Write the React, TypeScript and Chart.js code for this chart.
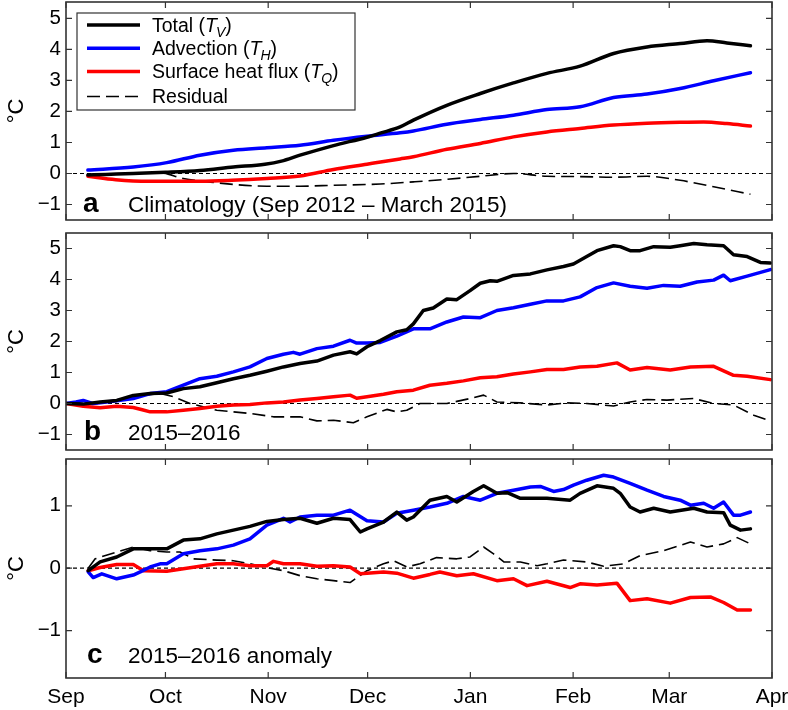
import React, { useEffect, useRef } from 'react';
import { Chart, registerables } from 'chart.js';

Chart.register(...registerables);

const FONT = '"Liberation Sans", Arial, Helvetica, sans-serif';

// x axis: days since 1 September (Apr 1 = day 213)
const monthDays = [0, 30, 61, 91, 122, 153, 182, 213];
const monthLabels = ['Sep', 'Oct', 'Nov', 'Dec', 'Jan', 'Feb', 'Mar', 'Apr'];
const yTicksAB = [-1, 0, 1, 2, 3, 4, 5];
const yTicksC = [-1, 0, 1];

type Pt = [number, number];

// ---------- panel a: climatology ----------
const aTotal: Pt[] = [[6.6, -0.05], [12, -0.03], [20.3, 0], [30, 0.04], [40.4, 0.1], [50.5, 0.21], [60, 0.3], [65, 0.4], [70.6, 0.59], [80.7, 0.9], [90.8, 1.17], [94.8, 1.3], [100.8, 1.5], [104.8, 1.72], [114.9, 2.2], [125, 2.58], [135, 2.92], [145.1, 3.23], [155.1, 3.46], [165.2, 3.87], [175.3, 4.08], [185.3, 4.19], [193.4, 4.28], [199.4, 4.21], [206.5, 4.12]];
const aAdvection: Pt[] = [[6.6, 0.11], [20.3, 0.21], [30.4, 0.35], [40.4, 0.59], [50.5, 0.75], [60.6, 0.83], [70.6, 0.91], [80.7, 1.07], [90.8, 1.2], [100.8, 1.31], [104.8, 1.37], [114.9, 1.59], [125, 1.74], [135, 1.88], [145.1, 2.06], [155.1, 2.15], [165.2, 2.45], [175.3, 2.56], [185.3, 2.74], [195.4, 2.99], [206.5, 3.25]];
const aSurface: Pt[] = [[6.6, -0.09], [15, -0.2], [25, -0.25], [40.4, -0.25], [50, -0.22], [60.6, -0.16], [70.6, -0.08], [80.7, 0.13], [90.8, 0.3], [100.8, 0.47], [104.8, 0.54], [114.9, 0.78], [125, 0.97], [135, 1.18], [145.1, 1.34], [155.1, 1.45], [165.2, 1.56], [175.3, 1.62], [185.3, 1.65], [192.4, 1.66], [199.4, 1.61], [206.5, 1.53]];
const aResidual: Pt[] = [[6.6, -0.05], [20.3, 0], [28.4, 0.02], [35.4, -0.16], [45.5, -0.3], [60.6, -0.41], [70.6, -0.41], [80.7, -0.38], [94.8, -0.34], [104.8, -0.27], [114.9, -0.19], [125, -0.09], [135, 0], [145.1, -0.09], [155.1, -0.1], [165.2, -0.12], [175.3, -0.09], [185.3, -0.22], [195.4, -0.43], [206.5, -0.67]];

// ---------- panel b: 2015-2016 ----------
const bTotal: Pt[] = [[0, 0], [5.2, -0.02], [10.3, 0.05], [15.3, 0.1], [20.3, 0.26], [25.4, 0.32], [30.4, 0.34], [35.4, 0.48], [40.4, 0.54], [45.5, 0.67], [50.5, 0.8], [55.5, 0.91], [60.6, 1.04], [65.6, 1.18], [70.6, 1.29], [75.7, 1.37], [80.7, 1.56], [85.7, 1.67], [87.7, 1.6], [90.8, 1.83], [94.8, 2.03], [99.8, 2.31], [102.8, 2.38], [104.8, 2.57], [107.8, 3.0], [110.8, 3.08], [114.9, 3.37], [117.9, 3.35], [121.9, 3.64], [125, 3.88], [128, 3.96], [130, 3.94], [135, 4.13], [140.1, 4.18], [145.1, 4.31], [150.1, 4.42], [153.1, 4.5], [157.1, 4.74], [160.2, 4.93], [165.2, 5.09], [167.2, 5.06], [170.2, 4.93], [173.2, 4.93], [177.3, 5.06], [182.3, 5.04], [185.3, 5.09], [189.4, 5.16], [193.4, 5.12], [198.4, 5.09], [201.4, 4.8], [205.5, 4.74], [209.5, 4.55], [212.5, 4.53]];
const bAdvection: Pt[] = [[0, 0], [3, 0.05], [5.2, 0.1], [8, 0], [10.3, 0.02], [15.3, 0.09], [20.3, 0.16], [25.4, 0.32], [30.4, 0.38], [35.4, 0.59], [40.4, 0.8], [45.5, 0.88], [50.5, 1.02], [55.5, 1.18], [60.6, 1.45], [65.6, 1.59], [68.6, 1.65], [70.6, 1.59], [75.7, 1.77], [80.7, 1.85], [85.7, 2.04], [87.7, 1.95], [90.8, 1.95], [94.8, 1.97], [99.8, 2.17], [104.8, 2.41], [109.8, 2.41], [114.9, 2.63], [119.9, 2.79], [125, 2.77], [130, 3.0], [135, 3.09], [140.1, 3.2], [145.1, 3.31], [150.1, 3.31], [155.1, 3.44], [160.2, 3.74], [165.2, 3.89], [170.2, 3.78], [175.3, 3.72], [180.3, 3.81], [185.3, 3.78], [190.4, 3.92], [195.4, 3.98], [198.4, 4.14], [200.4, 3.96], [205.5, 4.11], [212.5, 4.32]];
const bSurface: Pt[] = [[0, 0], [5.2, -0.09], [10.3, -0.14], [15.3, -0.09], [20.3, -0.13], [23, -0.2], [25.4, -0.27], [30.4, -0.27], [35.4, -0.22], [40.4, -0.16], [45.5, -0.09], [50.5, -0.05], [55.5, -0.03], [60.6, 0.02], [65.6, 0.05], [70.6, 0.11], [75.7, 0.16], [80.7, 0.22], [85.7, 0.27], [87.7, 0.17], [90.8, 0.22], [95.8, 0.3], [99.8, 0.38], [104.8, 0.43], [109.8, 0.59], [114.9, 0.65], [119.9, 0.73], [125, 0.83], [130, 0.86], [135, 0.95], [140.1, 1.02], [145.1, 1.1], [150.1, 1.1], [155.1, 1.18], [160.2, 1.2], [166.2, 1.31], [170.2, 1.08], [175.3, 1.16], [182.3, 1.08], [188.4, 1.18], [195.4, 1.2], [201.4, 0.91], [205.5, 0.88], [212.5, 0.77]];
const bResidual: Pt[] = [[0, 0], [10.3, 0], [20.3, 0.22], [28.4, 0.32], [32.4, 0.22], [37.4, 0], [45.5, -0.22], [55.5, -0.32], [62.6, -0.43], [70.6, -0.43], [75.7, -0.56], [80.7, -0.54], [86.7, -0.62], [90.8, -0.43], [96.8, -0.19], [99.8, -0.27], [102.8, -0.22], [106.8, 0], [114.9, 0], [121.9, 0.16], [126, 0.27], [130, 0.05], [137.1, 0.02], [145.1, -0.05], [151.1, 0.02], [157.1, 0], [165.2, -0.08], [170.2, 0.05], [175.3, 0.13], [181.3, 0.11], [189.4, 0.16], [195.4, 0], [201.4, -0.05], [207.5, -0.38], [212.5, -0.56]];

// ---------- panel c: 2015-2016 anomaly ----------
const cTotal: Pt[] = [[6.7, -0.04], [10.3, 0.1], [15.3, 0.18], [20.3, 0.31], [25.4, 0.31], [30.4, 0.31], [35.4, 0.45], [40.4, 0.47], [45.5, 0.55], [50.5, 0.61], [55.5, 0.67], [60.6, 0.75], [65.6, 0.78], [70.6, 0.8], [75.7, 0.72], [80.7, 0.8], [85.7, 0.78], [88.8, 0.58], [90.8, 0.63], [95.8, 0.74], [99.8, 0.9], [102.8, 0.77], [104.8, 0.82], [109.8, 1.09], [114.9, 1.15], [117.9, 1.06], [122.9, 1.23], [126, 1.32], [130, 1.2], [133.1, 1.21], [137.1, 1.12], [145.1, 1.12], [152.1, 1.09], [155.1, 1.2], [160.2, 1.32], [165.2, 1.28], [167.2, 1.2], [170.2, 0.98], [173.2, 0.9], [177.3, 0.96], [182.3, 0.9], [189.4, 0.96], [193.4, 0.9], [198.4, 0.89], [200.4, 0.69], [203.5, 0.61], [206.5, 0.63]];
const cAdvection: Pt[] = [[6.7, -0.06], [8.2, -0.15], [10.8, -0.09], [15.3, -0.17], [20.3, -0.11], [22.4, -0.06], [25.4, 0.02], [28.4, 0.07], [30.4, 0.07], [35.4, 0.23], [40.4, 0.28], [45.5, 0.31], [50.5, 0.37], [55.5, 0.47], [60.6, 0.69], [65.6, 0.8], [67.6, 0.74], [70.6, 0.82], [75.7, 0.85], [80.7, 0.85], [85.7, 0.93], [90.8, 0.76], [95.8, 0.74], [99.8, 0.88], [104.8, 0.93], [109.8, 0.98], [114.9, 1.04], [119.9, 1.15], [125, 1.09], [130, 1.2], [135, 1.25], [140.1, 1.3], [143.1, 1.31], [147.1, 1.23], [150.1, 1.26], [153.1, 1.33], [157.1, 1.41], [162.2, 1.49], [165.2, 1.46], [170.2, 1.36], [175.3, 1.25], [180.3, 1.15], [185.3, 1.09], [188.4, 1.01], [192.4, 1.04], [195.4, 0.96], [198.4, 1.06], [201.4, 0.85], [203.5, 0.85], [206.5, 0.9]];
const cSurface: Pt[] = [[6.7, -0.04], [10.3, 0.01], [15.3, 0.06], [20.3, 0.06], [23.4, -0.04], [30.4, -0.05], [35.4, -0.01], [40.4, 0.03], [45.5, 0.07], [50.5, 0.07], [55.5, 0.04], [60.6, 0.04], [62.6, 0.11], [65.6, 0.07], [70.6, 0.07], [75.7, 0.03], [80.7, 0.04], [85.7, 0.02], [88.8, -0.09], [95.8, -0.06], [99.8, -0.08], [104.8, -0.16], [109.8, -0.1], [112.8, -0.06], [117.9, -0.12], [122.9, -0.09], [130, -0.2], [135, -0.17], [139.1, -0.28], [145.1, -0.21], [152.1, -0.31], [155.1, -0.25], [160.2, -0.27], [166.2, -0.24], [170.2, -0.52], [175.3, -0.49], [182.3, -0.56], [188.4, -0.47], [194.4, -0.46], [198.4, -0.55], [202.5, -0.67], [206.5, -0.67]];
const cResidual: Pt[] = [[6.7, 0], [8.8, 0.15], [15.3, 0.26], [20.3, 0.34], [25.4, 0.28], [30.4, 0.26], [34.4, 0.26], [38.5, 0.15], [45.5, 0.13], [50.5, 0.12], [55.5, 0.07], [60.6, 0.01], [65.6, -0.04], [70.6, -0.12], [75.7, -0.17], [80.7, -0.2], [85.7, -0.23], [90.8, -0.04], [95.8, 0.07], [98.8, 0.12], [102.8, 0.02], [106.8, 0.07], [111.8, 0.17], [117.9, 0.15], [121.9, 0.18], [126, 0.34], [129, 0.23], [132.1, 0.1], [137.1, 0.1], [142.1, 0.04], [145.1, 0.07], [150.1, 0.13], [157.1, 0.1], [162.2, 0.03], [168.2, 0.07], [173.2, 0.2], [180.3, 0.28], [188.4, 0.42], [193.4, 0.34], [198.4, 0.39], [202.5, 0.49], [206.5, 0.39]];

const seriesNames = ['Total (T_V)', 'Advection (T_H)', 'Surface heat flux (T_Q)', 'Residual'];
const seriesColors = ['#000000', '#0000ff', '#ff0000', '#000000'];

type Panel = {
  top: number;
  bottom: number;
  min: number;
  max: number;
  yTicks: number[];
  showX: boolean;
  letter: string;
  caption: string;
  letterX: number;
  baseline: number;
  legend: boolean;
  smooth: boolean;
  series: Pt[][];
};

const W = 788;
const H = 710;

const panels: Panel[] = [
  { top: 2, bottom: 220, min: -1.5, max: 5.53, yTicks: yTicksAB, showX: false, letter: 'a', caption: 'Climatology (Sep 2012 \u2013 March 2015)', letterX: 83, baseline: 211.5, legend: true, smooth: true, series: [aTotal, aAdvection, aSurface, aResidual] },
  { top: 233, bottom: 450, min: -1.5, max: 5.5, yTicks: yTicksAB, showX: false, letter: 'b', caption: '2015\u20132016', letterX: 84, baseline: 440, legend: false, smooth: false, series: [bTotal, bAdvection, bSurface, bResidual] },
  { top: 459, bottom: 678, min: -1.76, max: 1.75, yTicks: yTicksC, showX: true, letter: 'c', caption: '2015\u20132016 anomaly', letterX: 87, baseline: 663, legend: false, smooth: false, series: [cTotal, cAdvection, cSurface, cResidual] },
];

const legendRows: { parts: { t: string; style: 'n' | 'i' | 's' }[] }[] = [
  { parts: [{ t: 'Total (', style: 'n' }, { t: 'T', style: 'i' }, { t: 'V', style: 's' }, { t: ')', style: 'n' }] },
  { parts: [{ t: 'Advection (', style: 'n' }, { t: 'T', style: 'i' }, { t: 'H', style: 's' }, { t: ')', style: 'n' }] },
  { parts: [{ t: 'Surface heat flux (', style: 'n' }, { t: 'T', style: 'i' }, { t: 'Q', style: 's' }, { t: ')', style: 'n' }] },
  { parts: [{ t: 'Residual', style: 'n' }] },
];

function drawLegend(ctx: CanvasRenderingContext2D) {
  const bx = 77, by = 13, bw = 278, bh = 97;
  ctx.save();
  ctx.fillStyle = '#ffffff';
  ctx.fillRect(bx, by, bw, bh);
  ctx.strokeStyle = '#333333';
  ctx.lineWidth = 1.2;
  ctx.strokeRect(bx, by, bw, bh);
  const rows = [25, 48.3, 71.5, 96.5];
  rows.forEach((ry, i) => {
    ctx.save();
    ctx.strokeStyle = seriesColors[i];
    ctx.lineWidth = i === 3 ? 1.6 : 3.5;
    ctx.setLineDash(i === 3 ? [13, 6] : []);
    ctx.beginPath();
    ctx.moveTo(87, ry);
    ctx.lineTo(140, ry);
    ctx.stroke();
    ctx.restore();
    let x = 152;
    const base = ry + 6.5;
    ctx.fillStyle = '#000';
    ctx.textBaseline = 'alphabetic';
    ctx.textAlign = 'left';
    legendRows[i].parts.forEach((p) => {
      if (p.style === 'n') {
        ctx.font = `19.5px ${FONT}`;
        ctx.fillText(p.t, x, base);
      } else if (p.style === 'i') {
        ctx.font = `italic 19.5px ${FONT}`;
        ctx.fillText(p.t, x, base);
      } else {
        ctx.font = `italic 14px ${FONT}`;
        x -= 1;
        ctx.fillText(p.t, x, base + 5);
      }
      x += ctx.measureText(p.t).width;
    });
  });
  ctx.restore();
}

function makePlugin(p: Panel) {
  return {
    id: 'panelDeco',
    beforeDatasetsDraw(chart: any) {
      const { ctx, chartArea: ca, scales } = chart;
      const y0 = scales.y.getPixelForValue(0);
      ctx.save();
      ctx.strokeStyle = '#000';
      ctx.lineWidth = 1.2;
      ctx.setLineDash([4, 3]);
      ctx.beginPath();
      ctx.moveTo(ca.left, y0);
      ctx.lineTo(ca.right, y0);
      ctx.stroke();
      ctx.restore();
    },
    afterDraw(chart: any) {
      const { ctx, chartArea: ca, scales } = chart;
      ctx.save();
      // inward ticks
      ctx.strokeStyle = '#333333';
      ctx.lineWidth = 1.2;
      const tl = 6;
      ctx.beginPath();
      p.yTicks.forEach((v) => {
        const y = scales.y.getPixelForValue(v);
        ctx.moveTo(ca.left, y);
        ctx.lineTo(ca.left + tl, y);
        ctx.moveTo(ca.right, y);
        ctx.lineTo(ca.right - tl, y);
      });
      monthDays.forEach((d) => {
        const x = scales.x.getPixelForValue(d);
        ctx.moveTo(x, ca.top);
        ctx.lineTo(x, ca.top + tl);
        ctx.moveTo(x, ca.bottom);
        ctx.lineTo(x, ca.bottom - tl);
      });
      ctx.stroke();
      // frame
      ctx.lineWidth = 1.6;
      ctx.strokeRect(ca.left, ca.top, ca.right - ca.left, ca.bottom - ca.top);
      // panel letter + caption
      ctx.fillStyle = '#000';
      ctx.textAlign = 'left';
      ctx.textBaseline = 'alphabetic';
      ctx.font = `bold 28px ${FONT}`;
      ctx.fillText(p.letter, p.letterX, p.baseline);
      ctx.font = `22.5px ${FONT}`;
      ctx.fillText(p.caption, 128, p.baseline);
      ctx.restore();
      if (p.legend) drawLegend(ctx);
    },
  };
}

function makeChart(canvas: HTMLCanvasElement, p: Panel) {
  const datasets = p.series.map((s, i) => ({
    label: seriesNames[i],
    data: s.map(([x, y]) => ({ x, y })),
    borderColor: seriesColors[i],
    backgroundColor: seriesColors[i],
    borderWidth: i === 3 ? 1.6 : 3.5,
    borderDash: i === 3 ? [13, 6] : [],
    borderCapStyle: i === 3 ? 'butt' : 'round',
    borderJoinStyle: 'round',
    pointRadius: 0,
    fill: false,
    tension: p.smooth ? 0.4 : 0,
    cubicInterpolationMode: p.smooth ? 'monotone' : 'default',
  }));
  return new Chart(canvas, {
    type: 'line',
    data: { datasets } as any,
    plugins: [makePlugin(p)],
    options: {
      animation: false,
      responsive: false,
      events: [],
      layout: {
        padding: { left: 0, right: W - 772, top: p.top, bottom: p.showX ? 0 : H - p.bottom },
      },
      plugins: { legend: { display: false }, tooltip: { enabled: false } },
      scales: {
        x: {
          type: 'linear',
          min: 0,
          max: 213,
          display: p.showX,
          grid: { display: false, drawTicks: false },
          border: { display: false },
          afterBuildTicks: (axis: any) => {
            axis.ticks = monthDays.map((v) => ({ value: v }));
          },
          afterFit: (axis: any) => {
            if (p.showX) axis.height = H - p.bottom;
            axis.paddingLeft = 0;
            axis.paddingRight = 0;
          },
          ticks: {
            autoSkip: false,
            maxRotation: 0,
            minRotation: 0,
            padding: 7,
            color: '#000',
            font: { family: FONT, size: 21 },
            callback: (v: any) => {
              const i = monthDays.indexOf(Number(v));
              return i >= 0 ? monthLabels[i] : '';
            },
          },
        },
        y: {
          type: 'linear',
          min: p.min,
          max: p.max,
          grid: { display: false, drawTicks: false },
          border: { display: false },
          afterBuildTicks: (axis: any) => {
            axis.ticks = p.yTicks.map((v) => ({ value: v }));
          },
          afterFit: (axis: any) => {
            axis.width = 66;
            axis.paddingTop = 0;
            axis.paddingBottom = 0;
          },
          ticks: {
            padding: 5,
            color: '#000',
            font: { family: FONT, size: 20.5 },
            callback: (v: any) => (Number(v) < 0 ? '\u2212' + Math.abs(Number(v)) : String(v)),
          },
          title: {
            display: true,
            text: '\u00B0C',
            color: '#000',
            font: { family: FONT, size: 22 },
            padding: { top: 4, bottom: 0 },
          },
        },
      },
    } as any,
  });
}

export default function App() {
  const refA = useRef<HTMLCanvasElement>(null);
  const refB = useRef<HTMLCanvasElement>(null);
  const refC = useRef<HTMLCanvasElement>(null);

  useEffect(() => {
    const canvases = [refA.current, refB.current, refC.current];
    const charts = canvases.map((c, i) => (c ? makeChart(c, panels[i]) : null));
    return () => {
      charts.forEach((ch) => ch && ch.destroy());
    };
  }, []);

  const style: React.CSSProperties = { position: 'absolute', left: 0, top: 0, width: W, height: H };
  return (
    <div style={{ position: 'absolute', left: 0, top: 0, width: W, height: H, background: '#fff' }}>
      <canvas ref={refA} width={W} height={H} style={style} />
      <canvas ref={refB} width={W} height={H} style={style} />
      <canvas ref={refC} width={W} height={H} style={style} />
    </div>
  );
}
